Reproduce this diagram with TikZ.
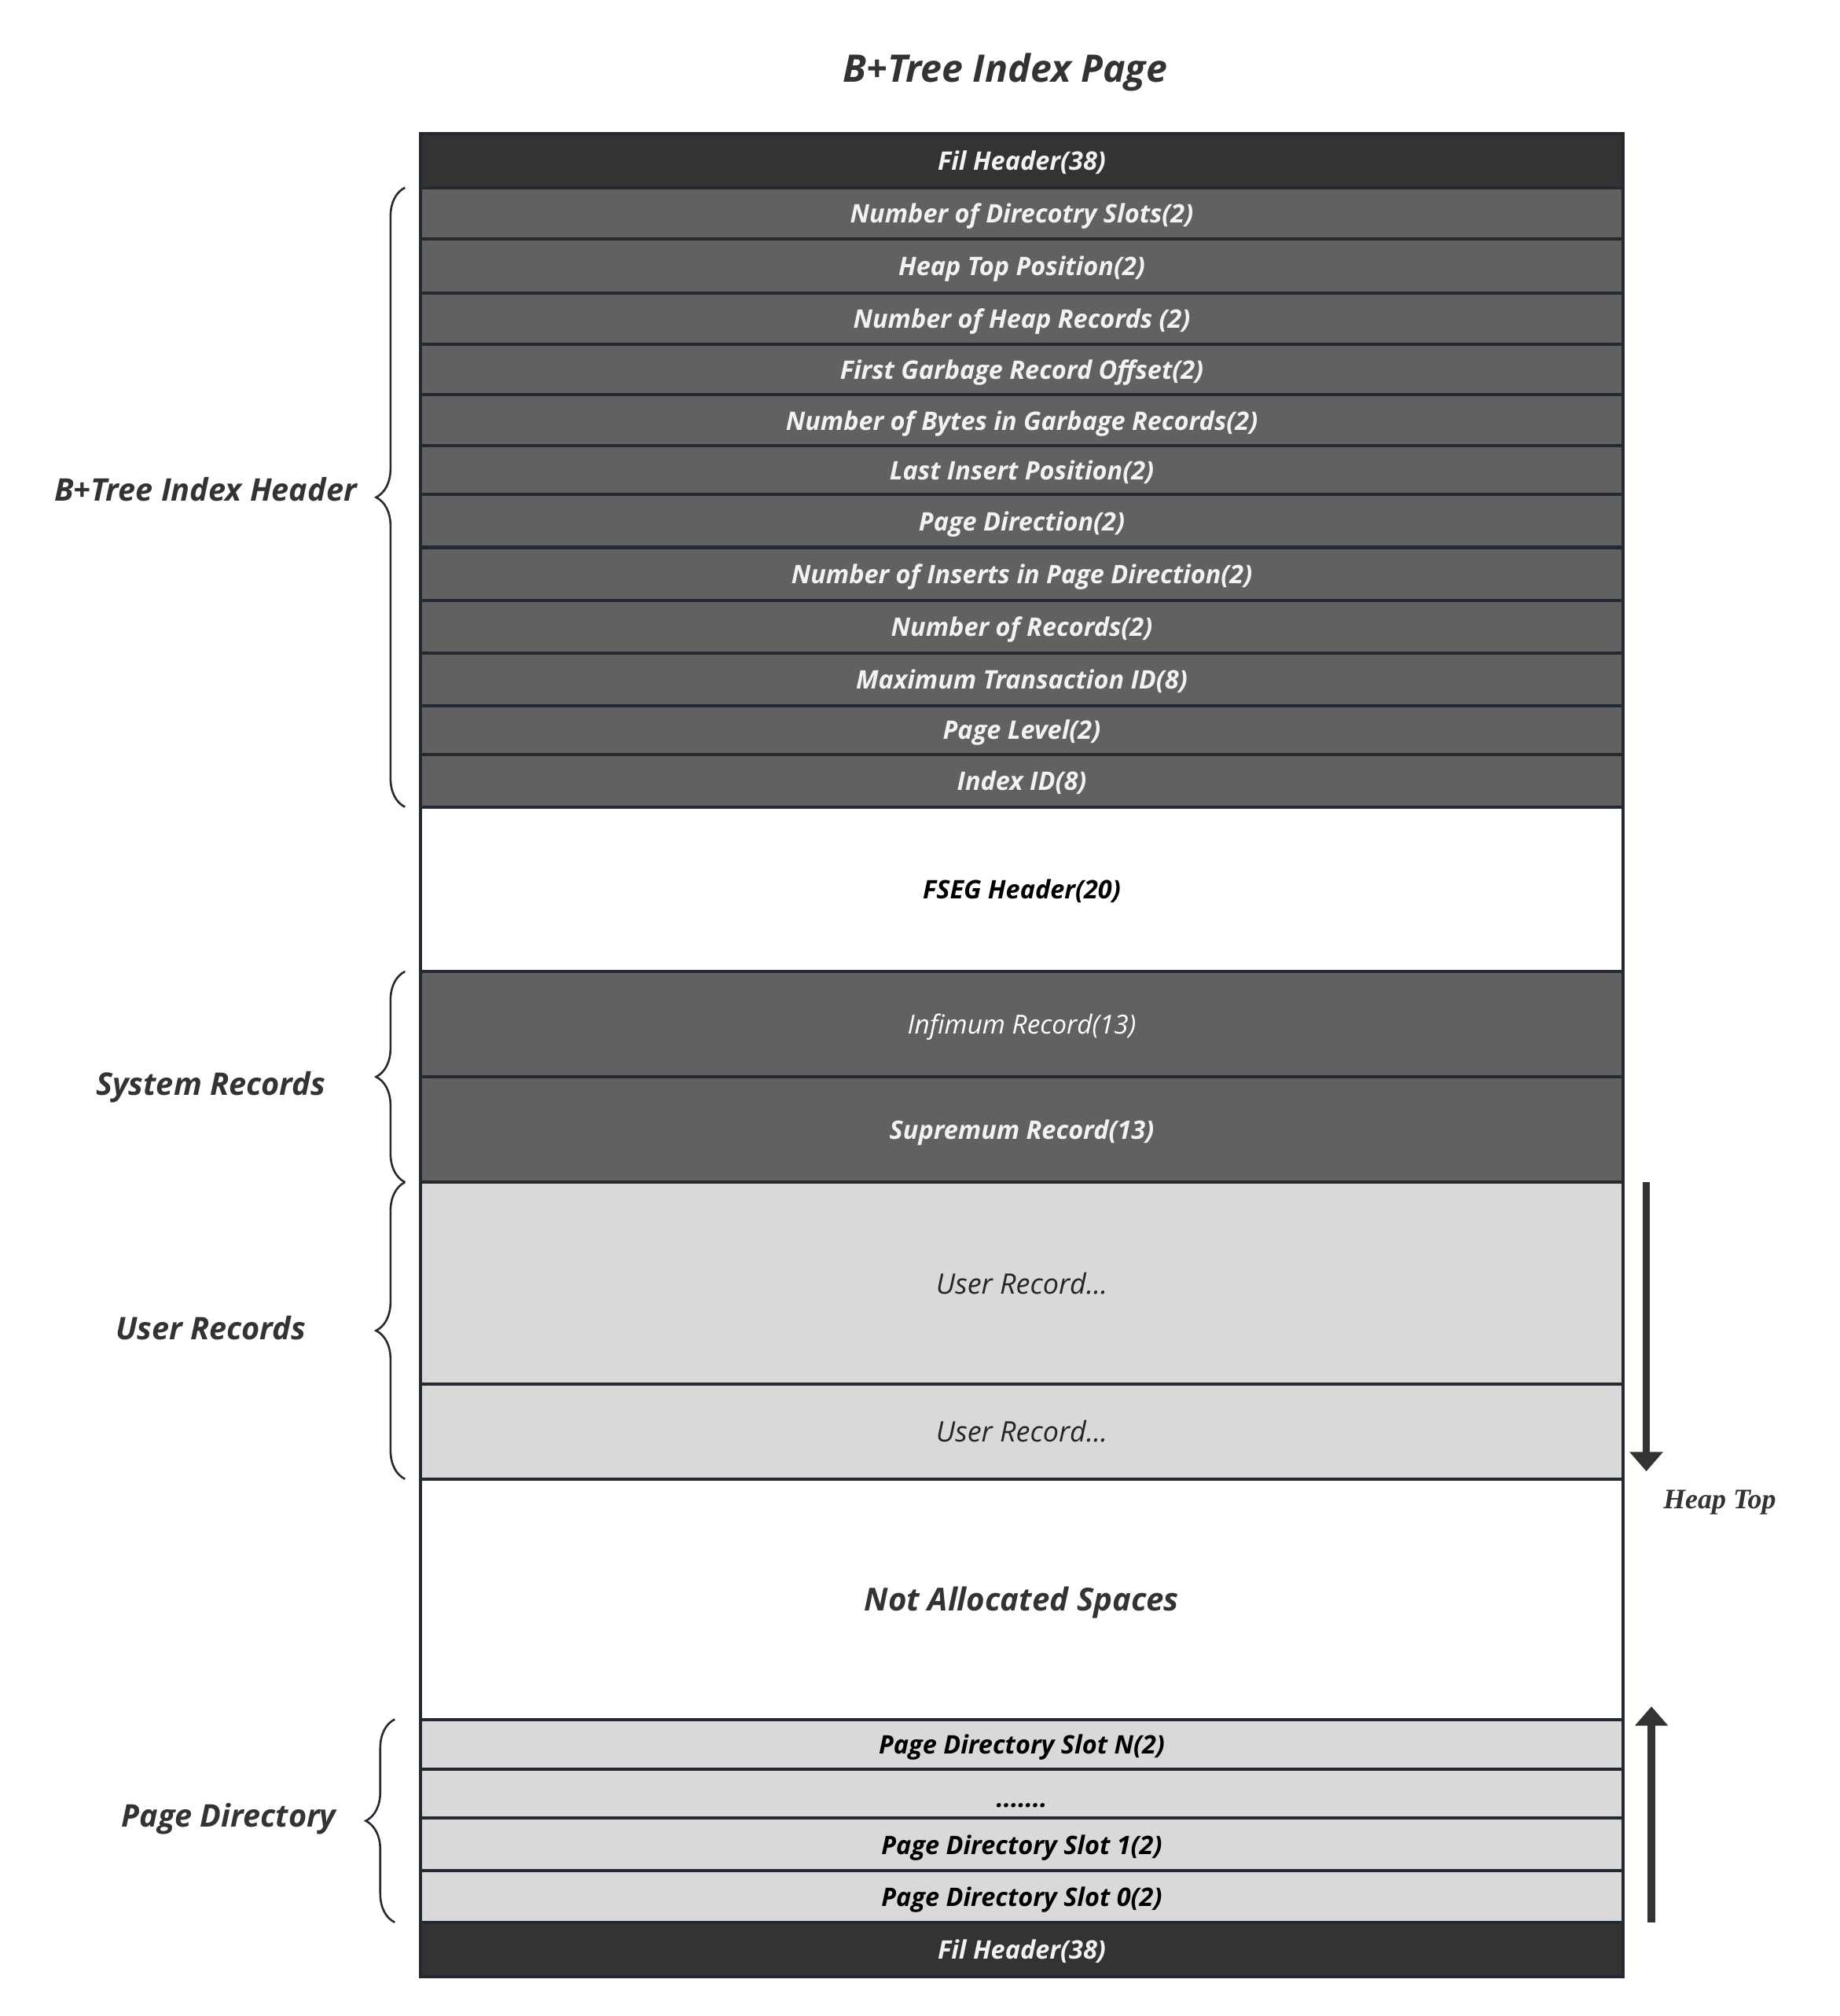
\documentclass[tikz,border=0pt]{standalone}
\usepackage{fontspec}
\setmainfont{Open Sans}
\newfontfamily\heapfont{Liberation Serif}
\usetikzlibrary{positioning, arrows.meta, decorations.pathreplacing}

\definecolor{filgray}{HTML}{333333}
\definecolor{hdrgray}{HTML}{616161}
\definecolor{usergray}{HTML}{D9D9D9}
\definecolor{edgegray}{HTML}{232A31}
\definecolor{textgray}{HTML}{333333}
\definecolor{whitetext}{HTML}{F2F2F2}

\tikzset{
  pagerow/.style={draw=edgegray, line width=1.4pt, minimum width=18.72cm, inner sep=0pt, outer sep=0pt, text depth=0pt, anchor=north, font=\bfseries\itshape\fontsize{11.3}{13}\selectfont},
  filrow/.style={pagerow, fill=filgray, text=whitetext},
  hdrrow/.style={pagerow, fill=hdrgray, text=whitetext},
  sysrow/.style={pagerow, fill=hdrgray, text=white, font=\itshape\fontsize{11.6}{13}\selectfont},
  freerow/.style={pagerow, fill=white, text=black},
  userrow/.style={pagerow, fill=usergray, text=black!85, font=\itshape\fontsize{12.5}{14}\selectfont},
  slotrow/.style={pagerow, fill=usergray, text=black},
  sidelabel/.style={text=textgray, font=\bfseries\itshape\fontsize{13.8}{16}\selectfont},
  pagebrace/.style={decorate, decoration={brace, amplitude=0.45cm}, draw=edgegray, line width=0.9pt},
  heaparrow/.style={draw=filgray, line width=3.4pt, -{Triangle[width=0.5cm, length=0.3cm]}}
}

\begin{document}
\begin{tikzpicture}[x=0.02cm, y=-0.02cm]
\useasboundingbox (0,0) rectangle (1431,1568.6);

\node (title) [text=textgray, font=\bfseries\itshape\fontsize{16.8}{20}\selectfont] at (782,56) {B+Tree Index Page};

% page rows, top to bottom
\node (filtop) [filrow, minimum height=0.84cm] at (795,104) {Fil Header(38)};
\node (dirslots) [hdrrow, minimum height=0.80cm, below=0pt of filtop] {Number of Direcotry Slots(2)};
\node (heappos) [hdrrow, minimum height=0.84cm, below=0pt of dirslots] {Heap Top Position(2)};
\node (heaprecs) [hdrrow, minimum height=0.80cm, below=0pt of heappos] {Number of Heap Records (2)};
\node (garbage) [hdrrow, minimum height=0.78cm, below=0pt of heaprecs] {First Garbage Record Offset(2)};
\node (garbytes) [hdrrow, minimum height=0.80cm, below=0pt of garbage] {Number of Bytes in Garbage Records(2)};
\node (lastins) [hdrrow, minimum height=0.76cm, below=0pt of garbytes] {Last Insert Position(2)};
\node (direction) [hdrrow, minimum height=0.82cm, below=0pt of lastins] {Page Direction(2)};
\node (ninserts) [hdrrow, minimum height=0.82cm, below=0pt of direction] {Number of Inserts in Page Direction(2)};
\node (nrecs) [hdrrow, minimum height=0.82cm, below=0pt of ninserts] {Number of Records(2)};
\node (maxtrx) [hdrrow, minimum height=0.82cm, below=0pt of nrecs] {Maximum Transaction ID(8)};
\node (level) [hdrrow, minimum height=0.76cm, below=0pt of maxtrx] {Page Level(2)};
\node (indexid) [hdrrow, minimum height=0.82cm, below=0pt of level] {Index ID(8)};
\node (fseg) [freerow, minimum height=2.56cm, below=0pt of indexid] {FSEG Header(20)};
\node (infimum) [sysrow, minimum height=1.64cm, below=0pt of fseg] {Infimum Record(13)};
\node (supremum) [hdrrow, minimum height=1.64cm, below=0pt of infimum] {Supremum Record(13)};
\node (user1) [userrow, minimum height=3.14cm, below=0pt of supremum] {User Record...};
\node (user2) [userrow, minimum height=1.48cm, below=0pt of user1] {User Record...};
\node (free) [freerow, minimum height=3.74cm, below=0pt of user2, text=textgray, font=\bfseries\itshape\fontsize{14}{16}\selectfont] {Not Allocated Spaces};
\node (slotN) [slotrow, minimum height=0.78cm, below=0pt of free] {Page Directory Slot N(2)};
\node (slotdots) [slotrow, minimum height=0.76cm, text height=2.2ex, below=0pt of slotN] {.......};
\node (slot1) [slotrow, minimum height=0.82cm, below=0pt of slotdots] {Page Directory Slot 1(2)};
\node (slot0) [slotrow, minimum height=0.80cm, below=0pt of slot1] {Page Directory Slot 0(2)};
\node (filbot) [filrow, minimum height=0.84cm, below=0pt of slot0] {Fil Header(38)};

% braces and their labels
\draw[pagebrace] ([xshift=-0.24cm]indexid.south west) -- ([xshift=-0.24cm]dirslots.north west);
\draw[pagebrace] ([xshift=-0.24cm]supremum.south west) -- ([xshift=-0.24cm]infimum.north west);
\draw[pagebrace] ([xshift=-0.24cm]user2.south west) -- ([xshift=-0.24cm]user1.north west);
\draw[pagebrace] ([xshift=-0.40cm]slot0.south west) -- ([xshift=-0.40cm]slotN.north west);

\node (hdrlabel) [sidelabel] at (160,381) {B+Tree Index Header};
\node (syslabel) [sidelabel] at (164,846) {System Records};
\node (userlabel) [sidelabel] at (164,1033) {User Records};
\node (dirlabel) [sidelabel] at (178,1415) {Page Directory};

% heap growth arrows
\coordinate (growstart) at ([xshift=0.36cm]supremum.south east);
\coordinate (growend) at ([xshift=0.36cm, yshift=0.12cm]user2.south east);
\draw[heaparrow] (growstart) -- (growend);
\coordinate (dirstart) at ([xshift=0.44cm]filbot.north east);
\coordinate (dirend) at ([xshift=0.44cm, yshift=0.2cm]slotN.north east);
\draw[heaparrow] (dirstart) -- (dirend);

\node (heaptop) [text=textgray, font=\heapfont\bfseries\itshape\fontsize{12.5}{14}\selectfont] at (1338,1169) {Heap Top};
\end{tikzpicture}
\end{document}
